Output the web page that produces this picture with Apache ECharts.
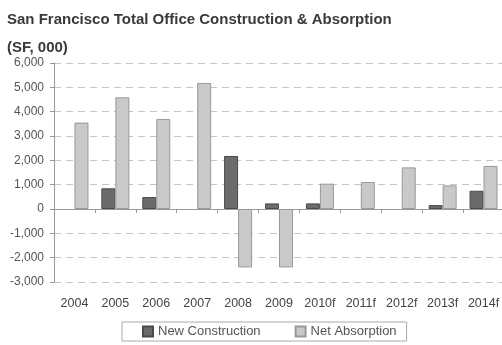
<!DOCTYPE html>
<html><head><meta charset="utf-8">
<script src="https://cdn.jsdelivr.net/npm/echarts@6/dist/echarts.min.js"></script>
<style>html,body{margin:0;padding:0;background:#fff}#c{width:502px;height:345px}</style>
</head><body><div id="c"></div>
<script>
var categories = ['2004','2005','2006','2007','2008','2009','2010f','2011f','2012f','2013f','2014f'];
var newConstruction = ['-', 850, 490, '-', 2180, 230, 230, '-', '-', 160, 750];
var netAbsorption = [3550, 4590, 3700, 5180, -2400, -2400, 1040, 1110, 1710, 970, 1770];
var seriesNames = ['New Construction', 'Net Absorption'];
var titleText = 'San Francisco Total Office Construction & Absorption';
var unitText = '(SF, 000)';

var font = '"Liberation Sans", Arial, sans-serif';
var chart = echarts.init(document.getElementById('c'));
chart.setOption({
  animation: false,
  backgroundColor: '#fff',
  title: [
    {text: titleText, left: 2, top: 7, textStyle: {fontFamily: font, fontSize: 15, fontWeight: 'bold', color: '#3a3a3a'}},
    {text: unitText, left: 2, top: 35, textStyle: {fontFamily: font, fontSize: 15, fontWeight: 'bold', color: '#3a3a3a'}}
  ],
  legend: {
    data: seriesNames,
    left: 122, top: 322,
    itemWidth: 10, itemHeight: 10, itemGap: 34,
    padding: [3, 10, 3, 20],
    borderColor: '#aaa', borderWidth: 1,
    icon: 'rect',
    textStyle: {fontFamily: font, fontSize: 13, color: '#555'}
  },
  grid: {left: 54, right: -2, top: 63, bottom: 63, containLabel: false, outerBoundsMode: 'none'},
  xAxis: [
    {type: 'category', data: categories, position: 'bottom',
     axisLine: {show: false, onZero: false}, axisTick: {show: false},
     axisLabel: {fontFamily: font, fontSize: 12.5, color: '#444', margin: 15, interval: 0}},
    {type: 'category', data: categories, position: 'top',
     axisLine: {show: true, onZero: true, onZeroAxisIndex: 0, lineStyle: {color: '#999', width: 1}},
     axisTick: {show: true, inside: true, length: 4, lineStyle: {color: '#999'}},
     axisLabel: {show: false}}
  ],
  yAxis: {
    type: 'value', min: -3000, max: 6000, interval: 1000,
    axisLine: {show: true, lineStyle: {color: '#999'}},
    axisTick: {show: true, length: 4, lineStyle: {color: '#999'}},
    axisLabel: {fontFamily: font, fontSize: 12, color: '#555', margin: 10,
      formatter: function (v) { return v.toLocaleString('en-US'); }},
    splitLine: {show: true, lineStyle: {color: '#c4c4c4', type: [7, 5], width: 1}}
  },
  series: [
    {name: seriesNames[0], type: 'bar', data: newConstruction, xAxisIndex: 0, barWidth: 14, barGap: '0%',
     itemStyle: {color: '#6b6b6b', borderColor: '#4a4a4a', borderWidth: 1}},
    {name: seriesNames[1], type: 'bar', data: netAbsorption, xAxisIndex: 0, barWidth: 14, barGap: '0%',
     itemStyle: {color: '#c9c9c9', borderColor: '#999', borderWidth: 1}}
  ]
});
</script></body></html>
